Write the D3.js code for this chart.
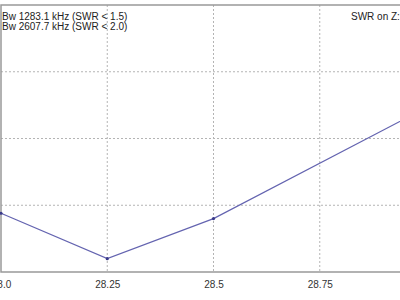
<!DOCTYPE html>
<html>
<head>
<meta charset="utf-8">
<script src="https://cdn.jsdelivr.net/npm/d3@7"></script>
<style>
  body { margin: 0; background: #fff; }
  svg { display: block; font-family: "Liberation Sans", Arial, sans-serif; }
</style>
</head>
<body>
<script>
// SWR sweep, values
const freqs = [28.0, 28.25, 28.5, 29.0];
const swr = [1.44, 1.10, 1.40, 2.23];
const xTicks = [28.0, 28.25, 28.5, 28.75];
const xTickLabels = ["28.0", "28.25", "28.5", "28.75"];
const yTicks = [1.5, 2.0, 2.5];
const infoLines = ["Bw 1283.1 kHz (SWR < 1.5)", "Bw 2607.7 kHz (SWR < 2.0)"];
const title = "SWR on Z: 50.0 Ohm";

const width = 400;
const height = 300;

const svg = d3.select("body")
    .append("svg")
    .attr("width", width)
    .attr("height", height);

const x = d3.scaleLinear().domain([28, 29]).range([1, 426]);
const y = d3.scaleLinear().domain([1, 3]).range([272, 5]);

// grid
svg.append("g").selectAll("line")
    .data(xTicks.slice(1))
    .join("line")
    .attr("x1", d => x(d)).attr("x2", d => x(d))
    .attr("y1", y(3)).attr("y2", y(1))
    .attr("stroke", "#b4b4b4")
    .attr("stroke-dasharray", "2,2");

svg.append("g").selectAll("line")
    .data(yTicks)
    .join("line")
    .attr("x1", x(28)).attr("x2", x(29))
    .attr("y1", d => y(d)).attr("y2", d => y(d))
    .attr("stroke", "#b4b4b4")
    .attr("stroke-dasharray", "2,2");

// frame
svg.append("rect")
    .attr("x", x(28)).attr("y", y(3))
    .attr("width", x(29) - x(28)).attr("height", y(1) - y(3))
    .attr("fill", "none")
    .attr("stroke", "#999")
    .attr("stroke-width", 1.5);

// bottom axis labels
const xaxis = d3.axisBottom(x)
    .tickValues(xTicks)
    .tickSize(0)
    .tickPadding(9)
    .tickFormat((d, i) => xTickLabels[i]);

svg.append("g")
    .attr("transform", `translate(0,${y(1)})`)
    .call(xaxis)
    .call(g => g.select(".domain").remove())
    .call(g => g.selectAll("text")
        .attr("fill", "#333")
        .style("font-size", "10px")
        .style("font-family", "Liberation Sans, Arial, sans-serif"));

// curve
const line = d3.line()
    .x((d, i) => x(freqs[i]))
    .y(d => y(d));

svg.append("path")
    .datum(swr)
    .attr("d", line)
    .attr("fill", "none")
    .attr("stroke", "#6464b0")
    .attr("stroke-width", 1.2);

svg.append("g").selectAll("circle")
    .data(swr)
    .join("circle")
    .attr("cx", (d, i) => x(freqs[i]))
    .attr("cy", d => y(d))
    .attr("r", 1.6)
    .attr("fill", "#3a3a8a");

// texts
svg.append("g").selectAll("text")
    .data(infoLines)
    .join("text")
    .attr("x", 2)
    .attr("y", (d, i) => 20 + i * 9.5)
    .attr("font-size", 10)
    .attr("fill", "#222")
    .text(d => d);

svg.append("text")
    .attr("x", 351)
    .attr("y", 20)
    .attr("font-size", 10)
    .attr("fill", "#222")
    .text(title);
</script>
</body>
</html>
